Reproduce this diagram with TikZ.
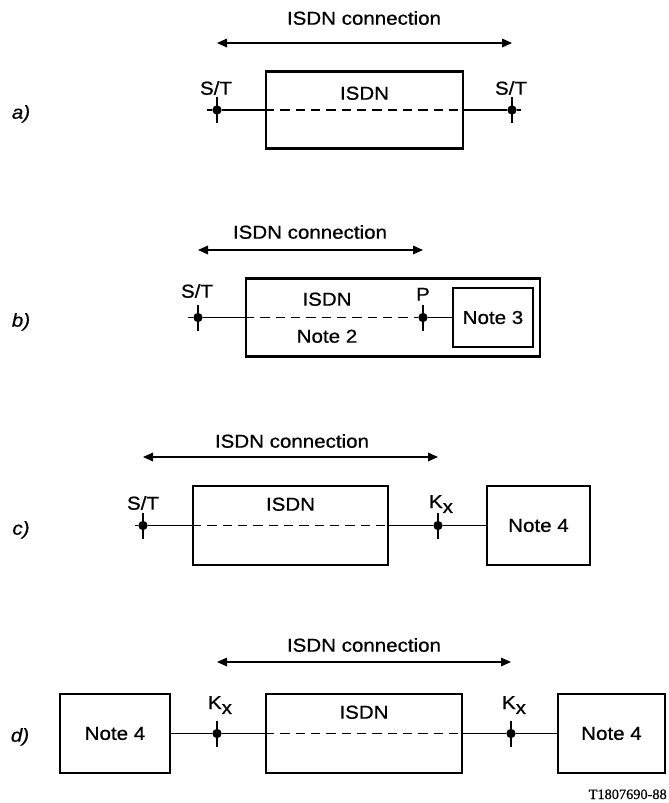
\documentclass[tikz,border=0pt]{standalone}
\usepackage{fontspec}
\setmainfont{Liberation Sans}[FakeStretch=1.1, FakeBold=0.7]
\newfontfamily\tagfont{Liberation Serif}[FakeBold=0.5]
\usetikzlibrary{arrows.meta}

\begin{document}
\begin{tikzpicture}[x=0.75pt,y=-0.75pt,
  font=\fontsize{14}{16}\selectfont,
  txt/.style={inner sep=0pt, text height=10pt, text depth=0pt},
  plabel/.style={txt, font=\fontsize{14}{16}\selectfont\itshape},
  box/.style={draw, line width=1.6pt, inner sep=0pt},
  refpt/.style={circle, fill, inner sep=0pt, minimum size=7pt},
  tick/.style={line width=1.9pt},
  wire/.style={line width=0.9pt},
  wirein/.style={line width=0.9pt, dash pattern=on 7pt off 4.5pt},
  span/.style={line width=0.9pt, {Triangle[length=7.5pt,width=6.5pt]}-{Triangle[length=7.5pt,width=6.5pt]}}]
\useasboundingbox (0,0) rectangle (668,803);

% a)
\node[plabel] (labA) at (21,112) {a)};
\node[txt] (connA) at (364,18) {ISDN connection};
\coordinate (arrA1) at (217,43);
\coordinate (arrA2) at (512,43);
\draw[span] (arrA1) -- (arrA2);
\node[box, minimum width=147.75pt, minimum height=57.75pt] (isdnA) at (364.5,110) {};
\node[txt] (isdnAtxt) at (364.5,93) {ISDN};
\node[refpt] (stA1) at (217,110) {};
\node[refpt] (stA2) at (512,110) {};
\node[txt] (lstA1) at (216,88) {S/T};
\node[txt] (lstA2) at (511,88) {S/T};
\coordinate (endA1) at (207,110);
\coordinate (endA2) at (521,110);
\draw[wire] (endA1) -- (stA1) -- (isdnA.west);
\draw[wirein] (isdnA.west) -- (isdnA.east);
\draw[wire] (isdnA.east) -- (stA2) -- (endA2);

% b)
\node[plabel] (labB) at (21,320) {b)};
\node[txt] (connB) at (310,232) {ISDN connection};
\coordinate (arrB1) at (198,250);
\coordinate (arrB2) at (423,250);
\draw[span] (arrB1) -- (arrB2);
\node[box, minimum width=220.5pt, minimum height=58.5pt] (isdnB) at (393,317.5) {};
\node[box, minimum width=60pt, minimum height=44.25pt] (note3B) at (493,317.5) {Note 3};
\node[txt] (isdnBtxt) at (327,299) {ISDN};
\node[txt] (note2B) at (327,336) {Note 2};
\node[refpt] (stB) at (198,317.5) {};
\node[refpt] (pB) at (423,317.5) {};
\node[txt] (lstB) at (197,291) {S/T};
\node[txt] (lpB) at (423,294) {P};
\coordinate (endB) at (188,317.5);
\draw[wire] (endB) -- (stB) -- (isdnB.west);
\draw[wirein] (isdnB.west) -- (pB);
\draw[wire] (pB) -- (note3B.west);

% c)
\node[plabel] (labC) at (21,528) {c)};
\node[txt] (connC) at (292,441) {ISDN connection};
\coordinate (arrC1) at (143,457);
\coordinate (arrC2) at (438,457);
\draw[span] (arrC1) -- (arrC2);
\node[box, minimum width=146.25pt, minimum height=59.25pt] (isdnC) at (290.5,525.5) {};
\node[box, minimum width=77.25pt, minimum height=59.25pt] (note4C) at (538.5,525.5) {Note 4};
\node[txt] (isdnCtxt) at (290.5,504) {ISDN};
\node[refpt] (stC) at (143,525.5) {};
\node[refpt] (kC) at (438,525.5) {};
\node[txt] (lstC) at (143,503) {S/T};
\node[anchor=base, inner sep=0pt] (lkC) at (441,508) {K\raisebox{-0.5ex}{x}};
\coordinate (endC) at (135,525.5);
\draw[wire] (endC) -- (stC) -- (isdnC.west);
\draw[wirein] (isdnC.west) -- (isdnC.east);
\draw[wire] (isdnC.east) -- (kC) -- (note4C.west);

% d)
\node[plabel] (labD) at (20,735) {d)};
\node[txt] (connD) at (364,645) {ISDN connection};
\coordinate (arrD1) at (217,662);
\coordinate (arrD2) at (511,662);
\draw[span] (arrD1) -- (arrD2);
\node[box, minimum width=82.5pt, minimum height=59.25pt] (note4D1) at (115,733.5) {Note 4};
\node[box, minimum width=147pt, minimum height=59.25pt] (isdnD) at (364,733.5) {};
\node[box, minimum width=80.25pt, minimum height=59.25pt] (note4D2) at (611.5,733.5) {Note 4};
\node[txt] (isdnDtxt) at (364,712) {ISDN};
\node[refpt] (kD1) at (217,733.5) {};
\node[refpt] (kD2) at (511,733.5) {};
\node[anchor=base, inner sep=0pt] (lkD1) at (220,709) {K\raisebox{-0.5ex}{x}};
\node[anchor=base, inner sep=0pt] (lkD2) at (514,709) {K\raisebox{-0.5ex}{x}};
\draw[wire] (note4D1.east) -- (kD1) -- (isdnD.west);
\draw[wirein] (isdnD.west) -- (isdnD.east);
\draw[wire] (isdnD.east) -- (kD2) -- (note4D2.west);

% ticks on the reference points
\foreach \p in {stA1,stA2,stB,pB,stC,kC,kD1,kD2}
  \draw[tick] ([yshift=-9.75pt]\p.center) -- ([yshift=9.75pt]\p.center);

\node[anchor=base east, inner sep=0pt, font=\tagfont\fontsize{10.75}{12}\selectfont] (tag) at (667,799) {T1807690-88};
\end{tikzpicture}
\end{document}
